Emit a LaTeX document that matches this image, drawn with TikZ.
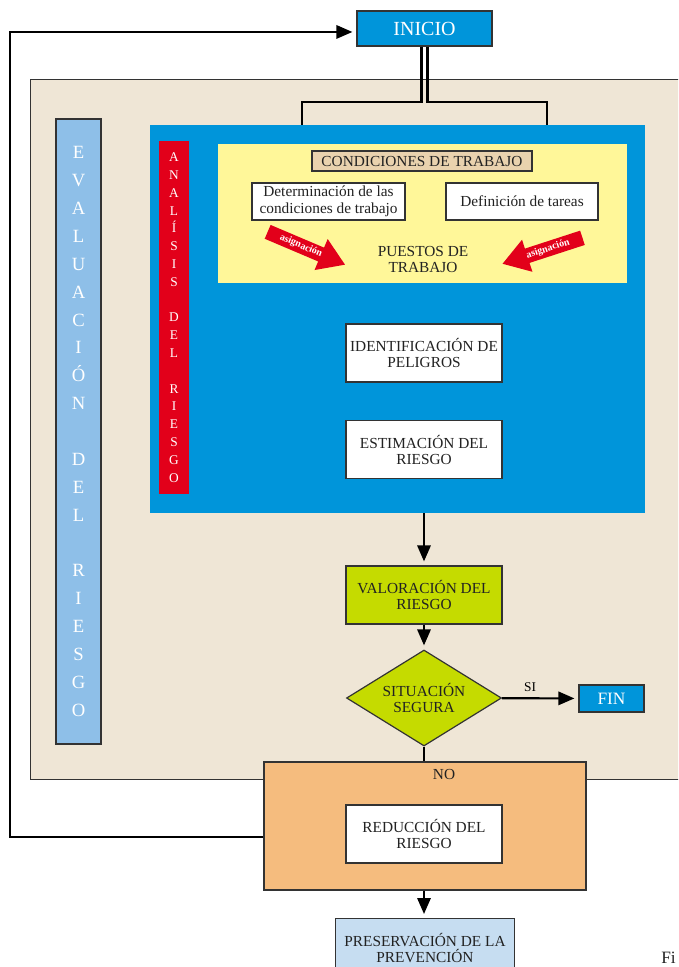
\documentclass[tikz,border=0pt]{standalone}
\usepackage{fontspec}
\setmainfont{Liberation Serif}
\usetikzlibrary{shapes.geometric,shapes.arrows,arrows.meta,positioning}

\definecolor{zona}{HTML}{EFE6D6}
\definecolor{azul}{HTML}{0095DA}
\definecolor{celeste}{HTML}{8EBFE8}
\definecolor{rojo}{HTML}{E2001A}
\definecolor{amarillo}{HTML}{FFF799}
\definecolor{arena}{HTML}{E9D2AE}
\definecolor{lima}{HTML}{C5DB00}
\definecolor{naranja}{HTML}{F5BC7E}
\definecolor{cielo}{HTML}{C6DDF1}
\definecolor{borde}{HTML}{333333}
\definecolor{tinta}{HTML}{222222}

\begin{document}
\begin{tikzpicture}[x=0.75pt, y=-0.75pt,
  paso/.style = {draw=borde, line width=0.9pt, fill=white, text=tinta, align=center,
    inner sep=0pt, font=\fontsize{11.5}{12}\selectfont, minimum width=117pt, minimum height=43.5pt},
  marco/.style = {draw=borde, line width=0.8pt, inner sep=0pt},
  letras/.style = {text=white, align=center, inner sep=0pt},
  asig/.style = {single arrow, fill=rojo, text=white, inner sep=2pt, minimum height=63pt,
    minimum width=24pt, single arrow tip angle=66, single arrow head extend=7pt,
    font=\fontsize{7.5}{7.5}\selectfont\bfseries},
  wire/.style = {line width=1.6pt},
  arrow/.style = {wire, -{Triangle[length=12pt, width=10pt]}, shorten >=3pt}]

\clip (0,0) rectangle (678,967);

% fondos
\node[marco, fill=zona, minimum width=510pt, minimum height=525pt, anchor=north west] (zona) at (30,79) {};
\node[marco, fill=celeste, minimum width=33.75pt, minimum height=468.75pt] (eval) at (78.5,431.5) {};
\node[letras, font=\fontsize{14}{20.9}\selectfont] at (eval) {E\\V\\A\\L\\U\\A\\C\\I\\Ó\\N\\~\\D\\E\\L\\~\\R\\I\\E\\S\\G\\O};
\node[fill=azul, minimum width=371.25pt, minimum height=291pt, inner sep=0pt] (analisis) at (397.5,319) {};
\node[fill=rojo, minimum width=22.5pt, minimum height=264.75pt, inner sep=0pt] (tira) at (174,317.5) {};
\node[letras, font=\fontsize{10}{13.35}\selectfont] at (tira) {A\\N\\A\\L\\Í\\S\\I\\S\\~\\D\\E\\L\\~\\R\\I\\E\\S\\G\\O};
\node[fill=amarillo, minimum width=306.75pt, minimum height=104.25pt, inner sep=0pt] (puestos) at (422.5,213.5) {};

% condiciones de trabajo
\node[paso, fill=arena, minimum width=165pt, minimum height=15pt] (cond) at (422,161) {CONDICIONES DE TRABAJO};
\node[paso, minimum width=114.75pt, minimum height=27.75pt, font=\fontsize{11.5}{12.5}\selectfont] (determ) at (328.5,201.5) {Determinación de las\\condiciones de trabajo};
\node[paso, minimum width=114pt, minimum height=27.75pt] (tareas) at (522,201.5) {Definición de tareas};
\node[text=tinta, align=center, font=\fontsize{11.5}{11.5}\selectfont] (pt) at (423,259.5) {PUESTOS DE\\TRABAJO};
\node[asig, rotate=-23] (asigL) at (301,246) {asignación};
\node[asig, rotate=18, shape border rotate=180] (asigR) at (548,249) {asignación};

% pasos
\node[paso] (ident) at (424,353) {IDENTIFICACIÓN DE\\PELIGROS};
\node[paso] (estim) at (424,449.5) {ESTIMACIÓN DEL\\RIESGO};
\node[paso, fill=lima] (valor) at (424,595) {VALORACIÓN DEL\\RIESGO};
\node[paso, diamond, aspect=1.6, fill=lima, minimum width=116.25pt, minimum height=72pt] (sit) at (424,698) {SITUACIÓN\\SEGURA};
\node[paso, fill=azul, text=white, minimum width=48.75pt, minimum height=20.25pt, font=\fontsize{13}{13}\selectfont] (fin) at (611.5,698.5) {FIN};
\node[paso, fill=naranja, minimum width=241.5pt, minimum height=96pt] (orange) at (425,826) {};
\node[text=tinta, font=\fontsize{11.5}{12}\selectfont] (no) at (444,774) {NO};
\node[paso] (reduc) at (424,834) {REDUCCIÓN DEL\\RIESGO};
\node[paso, fill=cielo, minimum width=134.25pt, anchor=north] (preserv) at (425,918) {PRESERVACIÓN DE LA\\PREVENCIÓN};
\node[paso, fill=azul, text=white, minimum width=101.25pt, minimum height=26.25pt, font=\fontsize{15}{15}\selectfont] (inicio) at (424.5,28.5) {INICIO};
\node[anchor=north west, text=tinta, font=\fontsize{13}{13}\selectfont, inner sep=0pt] (fig) at (661,952) {Fi};

% conectores
\coordinate (splitL) at (302,102);
\coordinate (splitR) at (547,102);
\coordinate (ret) at (10,837);
\draw[wire] ([xshift=-2.25pt]inicio.south) |- (splitL) -- (splitL |- analisis.north);
\draw[wire] ([xshift=2.25pt]inicio.south) |- (splitR) -- (splitR |- analisis.north);
\draw[arrow] (valor |- analisis.south) -- (valor);
\draw[arrow] (valor) -- (sit);
\draw[arrow] (sit) -- node[pos=0.37, above=1pt] {SI} (fin);
\draw[wire] (sit.south) -- (sit.south |- orange.north);
\draw[arrow] (orange.south -| sit) -- (preserv.north -| sit);
\draw[arrow] (orange.west |- ret) -- (ret) |- ([yshift=-2.6pt]inicio.west);

\end{tikzpicture}
\end{document}
